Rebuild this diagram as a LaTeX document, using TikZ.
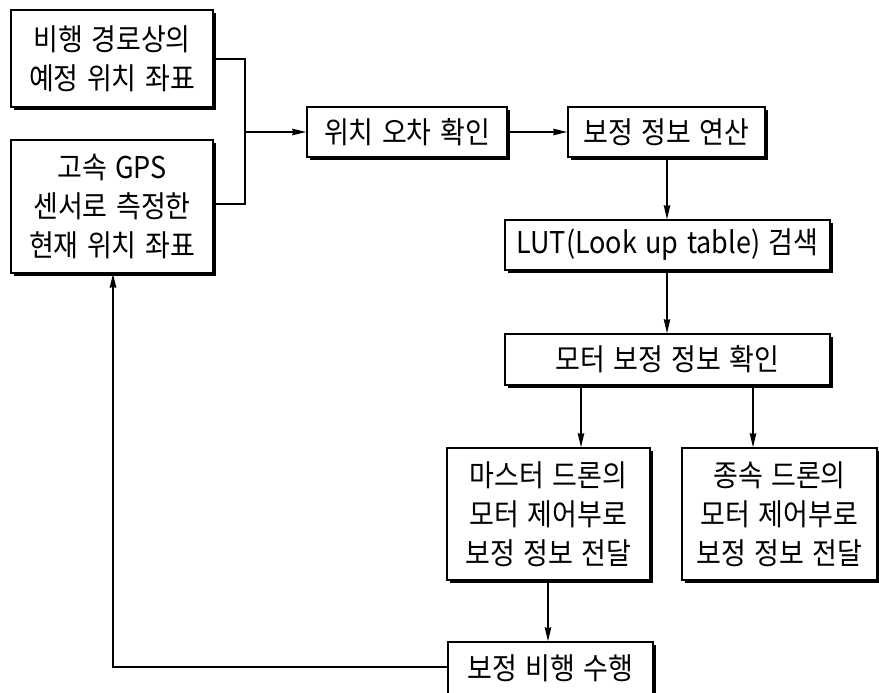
\documentclass[tikz,border=0pt]{standalone}
\usepackage{fontspec}
\newfontfamily\kr[FakeStretch=0.9,WordSpace=1.4]{Noto Sans CJK KR}
\usetikzlibrary{arrows.meta,shadows}
\begin{document}
\begin{tikzpicture}[x=1pt,y=-1pt,
  box/.style={draw=black,line width=1.6pt,fill=white,rectangle,inner sep=0pt,align=center,
    font=\kr\fontsize{30}{39}\selectfont,
    drop shadow={shadow xshift=3pt,shadow yshift=-3pt,fill=black,opacity=1}},
  conn/.style={line width=1.3pt},
  arr/.style={conn,-{Stealth[length=14pt,width=6.5pt,inset=1pt]}}]
\useasboundingbox (0,0) rectangle (879,693);
\node[box,minimum width=202pt,minimum height=97pt] (b1) at (112,58.5) {비행 경로상의\\예정 위치 좌표};
\node[box,minimum width=202pt,minimum height=133pt] (b2) at (112,206.5) {고속 GPS\\센서로 측정한\\현재 위치 좌표};
\node[box,minimum width=200pt,minimum height=50pt] (b3) at (407,132) {위치 오차 확인};
\node[box,minimum width=197pt,minimum height=50pt] (b4) at (666.5,132) {보정 정보 연산};
\node[box,minimum width=325pt,minimum height=50pt] (lut) at (667.5,245) {LUT(Look up table) 검색};
\node[box,minimum width=325pt,minimum height=51pt] (mot) at (667.5,359.5) {모터 보정 정보 확인};
\node[box,minimum width=203pt,minimum height=132pt] (mas) at (548.5,514) {마스터 드론의\\모터 제어부로\\보정 정보 전달};
\node[box,minimum width=195pt,minimum height=132pt] (sla) at (779.5,514) {종속 드론의\\모터 제어부로\\보정 정보 전달};
\node[box,minimum width=205pt,minimum height=52pt] (fly) at (550.5,668) {보정 비행 수행};
\coordinate (j) at (245,132);
\draw[conn] (b1.east |- 0,59) -- (245,59) -- (245,204) -- (b2.east |- 0,204);
\draw[arr] (j) -- (b3.west);
\draw[arr] (b3.east) -- (b4.west);
\draw[arr] (b4.south -| 667,0) -- (lut.north -| 667,0);
\draw[arr] (lut.south -| 667,0) -- (mot.north -| 667,0);
\draw[arr] (mot.south -| 581,0) -- (mas.north -| 581,0);
\draw[arr] (mot.south -| 753,0) -- (sla.north -| 753,0);
\draw[arr] (mas.south -| 548,0) -- (fly.north -| 548,0);
\draw[arr] (fly.west |- 0,667) -- (113,667) -- (b2.south -| 113,0);
\end{tikzpicture}
\end{document}
